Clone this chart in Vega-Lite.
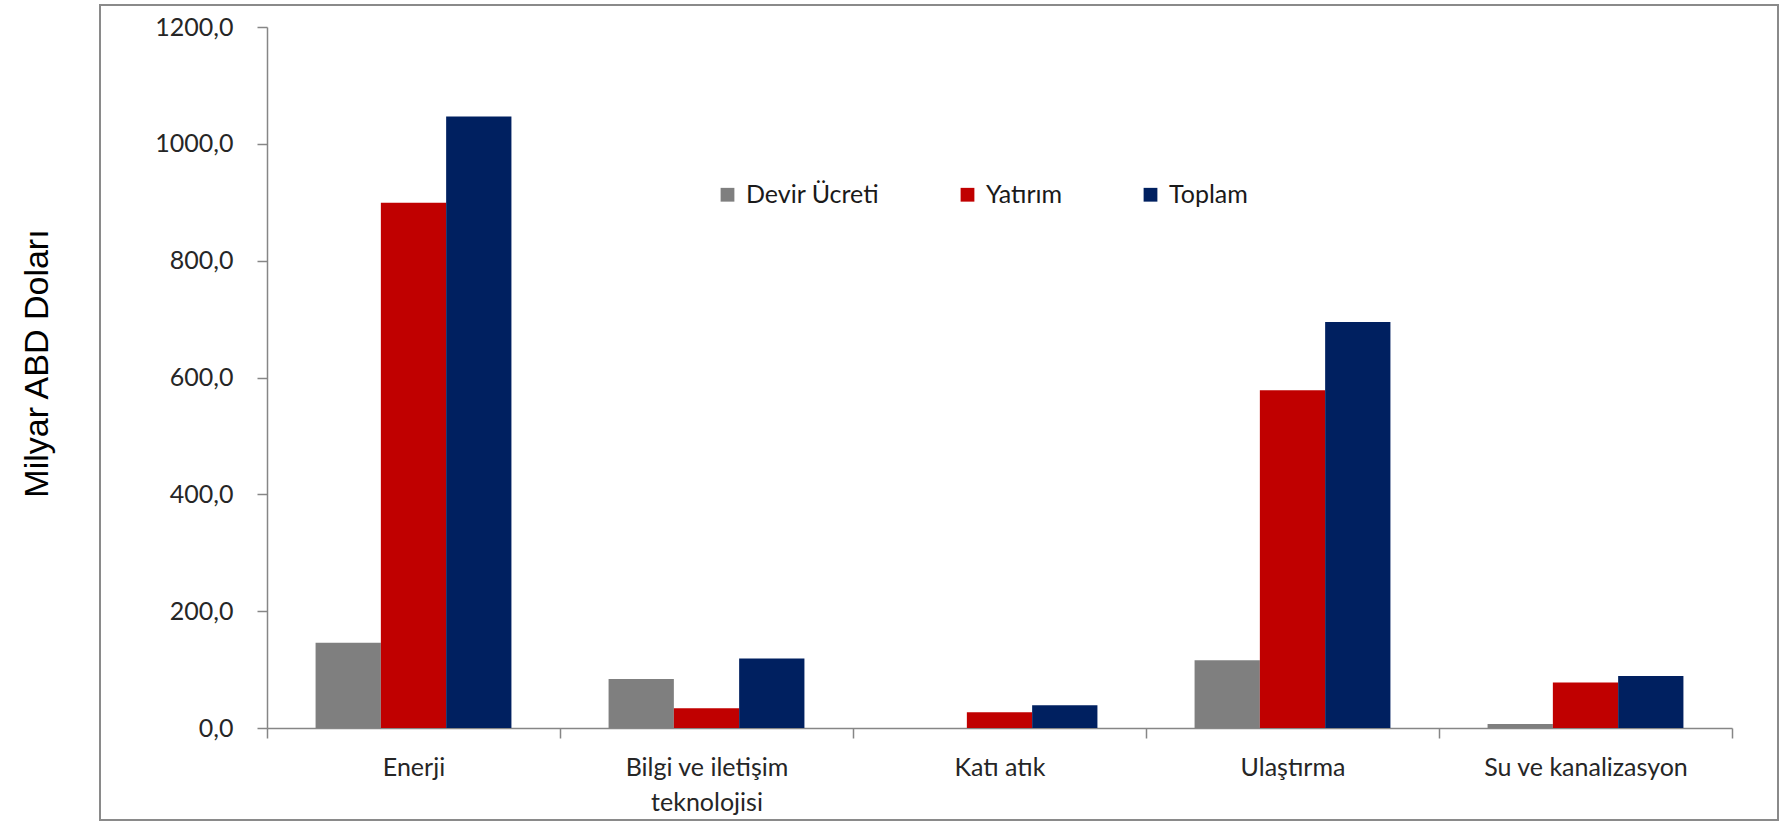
{
  "$schema": "https://vega.github.io/schema/vega-lite/v6.json",
  "width": 1678,
  "height": 815,
  "autosize": {"type": "none"},
  "padding": {"left": 100, "top": 5, "right": 3, "bottom": 2},
  "background": "white",
  "config": {
    "view": {"stroke": "#8a8a8a", "strokeWidth": 2},
    "font": "Lato"
  },
  "data": {
    "values": [
      {"sektor": "Enerji", "seri": "Devir Ücreti", "deger": 146},
      {"sektor": "Enerji", "seri": "Yatırım", "deger": 899},
      {"sektor": "Enerji", "seri": "Toplam", "deger": 1047},
      {"sektor": "Bilgi ve iletişim teknolojisi", "seri": "Devir Ücreti", "deger": 84},
      {"sektor": "Bilgi ve iletişim teknolojisi", "seri": "Yatırım", "deger": 34},
      {"sektor": "Bilgi ve iletişim teknolojisi", "seri": "Toplam", "deger": 119},
      {"sektor": "Katı atık", "seri": "Devir Ücreti", "deger": 0},
      {"sektor": "Katı atık", "seri": "Yatırım", "deger": 27},
      {"sektor": "Katı atık", "seri": "Toplam", "deger": 39},
      {"sektor": "Ulaştırma", "seri": "Devir Ücreti", "deger": 116},
      {"sektor": "Ulaştırma", "seri": "Yatırım", "deger": 578},
      {"sektor": "Ulaştırma", "seri": "Toplam", "deger": 695},
      {"sektor": "Su ve kanalizasyon", "seri": "Devir Ücreti", "deger": 7},
      {"sektor": "Su ve kanalizasyon", "seri": "Yatırım", "deger": 78},
      {"sektor": "Su ve kanalizasyon", "seri": "Toplam", "deger": 89}
    ]
  },
  "mark": {"type": "bar"},
  "encoding": {
    "x": {
      "field": "sektor",
      "type": "nominal",
      "sort": null,
      "scale": {"range": [167, 1632], "paddingInner": 0, "paddingOuter": 0},
      "axis": {
        "title": null,
        "offset": -92,
        "tickBand": "extent",
        "tickSize": 10,
        "tickColor": "#868686",
        "tickWidth": 1.5,
        "domainColor": "#868686",
        "domainWidth": 1.5,
        "labelAngle": 0,
        "labelFont": "Lato",
        "labelFontSize": 25,
        "labelColor": "#262626",
        "labelPadding": 17,
        "labelLineHeight": 35,
        "labelLimit": 0,
        "labelExpr": "datum.value == 'Bilgi ve iletişim teknolojisi' ? ['Bilgi ve iletişim', 'teknolojisi'] : datum.label"
      }
    },
    "xOffset": {
      "field": "seri",
      "type": "nominal",
      "sort": ["Devir Ücreti", "Yatırım", "Toplam"],
      "scale": {"paddingInner": 0, "paddingOuter": 0.744}
    },
    "y": {
      "field": "deger",
      "type": "quantitative",
      "scale": {"domain": [0, 1200], "range": [723, 22], "nice": false, "zero": true},
      "axis": {
        "offset": -167,
        "values": [0, 200, 400, 600, 800, 1000, 1200],
        "labelExpr": "replace(format(datum.value, '.1f'), '.', ',')",
        "grid": false,
        "tickSize": 10,
        "tickColor": "#868686",
        "tickWidth": 1.5,
        "domainColor": "#868686",
        "domainWidth": 1.5,
        "labelFont": "Lato",
        "labelFontSize": 25,
        "labelColor": "#262626",
        "labelPadding": 24,
        "title": "Milyar ABD Doları",
        "titleFont": "Liberation Sans",
        "titleFontSize": 34,
        "titleFontWeight": "normal",
        "titleColor": "#000000",
        "titleAngle": -90,
        "titleX": -230,
        "titleY": 358,
        "titleAlign": "center",
        "titleBaseline": "middle"
      }
    },
    "color": {
      "field": "seri",
      "type": "nominal",
      "scale": {
        "domain": ["Devir Ücreti", "Yatırım", "Toplam"],
        "range": ["#7f7f7f", "#c00000", "#002060"]
      },
      "legend": {
        "title": null,
        "orient": "none",
        "legendX": 615,
        "legendY": 177,
        "direction": "horizontal",
        "symbolType": "square",
        "symbolSize": 190,
        "symbolStrokeWidth": 0,
        "labelFont": "Lato",
        "labelFontSize": 25,
        "labelColor": "#1a1a1a",
        "labelOffset": 6,
        "columnPadding": 75,
        "padding": 0
      }
    }
  }
}
